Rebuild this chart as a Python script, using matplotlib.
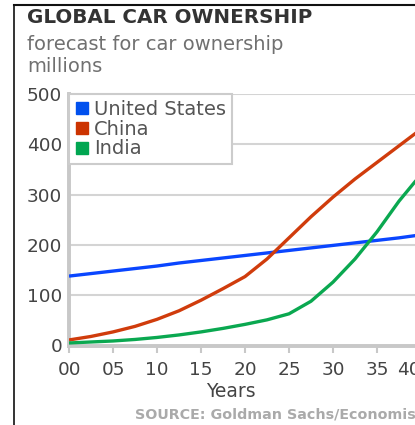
import matplotlib
matplotlib.use("Agg")
import matplotlib.pyplot as plt
from matplotlib.lines import Line2D

plt.rcParams['font.family'] = ['DejaVu Sans']

# readings every 2.5 years, 2000-2040
years = [0, 2.5, 5, 7.5, 10, 12.5, 15, 17.5, 20, 22.5, 25, 27.5, 30, 32.5, 35, 37.5, 40]
us = [138, 143, 148, 153, 158, 164, 169, 174, 179, 184, 189, 194, 199, 204, 209, 214, 220]
china = [11, 18, 27, 38, 52, 69, 90, 113, 137, 172, 214, 256, 295, 331, 364, 397, 430]
india = [5, 7, 9, 12, 16, 21, 27, 34, 42, 51, 63, 88, 126, 172, 226, 287, 340]

xticks = [0, 5, 10, 15, 20, 25, 30, 35, 40]
xlabels = ["00", "05", "10", "15", "20", "25", "30", "35", "40"]
yticks = [0, 100, 200, 300, 400, 500]

names = ["United States", "China", "India"]
line_colors = ["#0a46ff", "#d03c0c", "#0aa850"]
key_colors = ["#0050ee", "#cc3300", "#00a651"]

W, H = 415, 425
fig = plt.figure(figsize=(W / 100, H / 100), dpi=100)

# plot area runs past the right edge, so the 40 label gets cut
left, right, top, bottom = 69, 421, 94, 345.5
ax = fig.add_axes([left / W, 1 - bottom / H, (right - left) / W, (bottom - top) / H])

for vals, c in zip([us, china, india], line_colors):
    ax.plot(years, vals, color=c, lw=2.4, solid_joinstyle='round', solid_capstyle='butt', zorder=3)

ax.set_xlim(0, 40)
ax.set_ylim(0, 500)
ax.set_xticks(xticks)
ax.set_xticklabels(xlabels)
ax.get_xticklabels()[-1].set_ha('right')
ax.set_yticks(yticks)
ax.grid(axis='y', color='#d4d4d4', lw=1.5)
ax.set_axisbelow(True)

for s in ['top', 'right']:
    ax.spines[s].set_visible(False)
for s in ['left', 'bottom']:
    ax.spines[s].set_color('#c8c8c8')
    ax.spines[s].set_linewidth(2.8)

ax.tick_params(axis='x', length=5, width=1.5, color='#c8c8c8', pad=6,
               labelsize=13.3, labelcolor='#444444')
ax.tick_params(axis='y', length=0, pad=5, labelsize=13.3, labelcolor='#444444')

handles = [Line2D([], [], ls='none', marker='s', markersize=8.6,
                  markerfacecolor=c, markeredgecolor=c) for c in key_colors]
leg = ax.legend(handles, names, loc='upper left', bbox_to_anchor=(0, 1),
                borderaxespad=0, fontsize=14, handlelength=0.7, handletextpad=0.3,
                borderpad=0.3, labelspacing=0.04, fancybox=False, framealpha=1,
                edgecolor='#cccccc')
leg.get_frame().set_linewidth(1.5)
for t in leg.get_texts():
    t.set_color('#555555')
leg.set_zorder(5)

fig.text(27 / W, 1 - 23 / H, "GLOBAL CAR OWNERSHIP", fontsize=14.3, fontweight='bold',
         color='#333333', va='baseline')
fig.text(27 / W, 1 - 50 / H, "forecast for car ownership", fontsize=14,
         color='#707070', va='baseline')
fig.text(27 / W, 1 - 71.5 / H, "millions", fontsize=14, color='#707070', va='baseline')
fig.text(231 / W, 1 - 397 / H, "Years", fontsize=13.5, color='#444444',
         ha='center', va='baseline')
fig.text(135 / W, 1 - 418 / H, "SOURCE: Goldman Sachs/Economist", fontsize=10.3,
         fontweight='bold', color='#aaaaaa', va='baseline')

# frame lines around the graphic
fig.add_artist(Line2D([14 / W, 14 / W], [0, 1 - 5 / H], color='#111111', lw=1.2))
fig.add_artist(Line2D([14 / W, 1], [1 - 5 / H, 1 - 5 / H], color='#111111', lw=1.5))

fig.savefig("out.png", dpi=100)
